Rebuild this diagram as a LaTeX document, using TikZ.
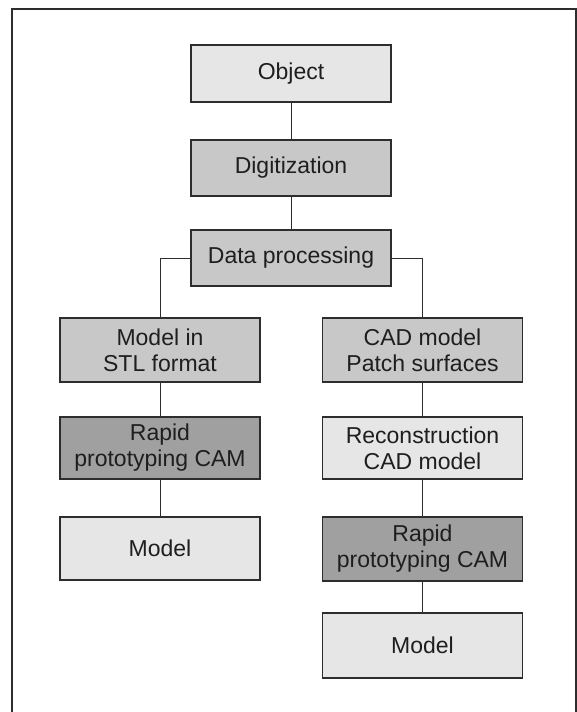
\documentclass[tikz,border=0pt]{standalone}
\usepackage{fontspec}
\setmainfont{Liberation Sans}
\definecolor{lightfill}{RGB}{230,230,230}
\definecolor{midfill}{RGB}{200,200,200}
\definecolor{darkfill}{RGB}{160,160,160}
\definecolor{linecol}{RGB}{45,45,45}
\definecolor{textcol}{RGB}{30,30,30}
\tikzset{
  box/.style={draw=linecol, line width=1.2pt, minimum width=200pt, inner sep=0pt,
    align=center, text=textcol, font=\fontsize{23}{26}\selectfont},
  lightbox/.style={box, fill=lightfill},
  midbox/.style={box, fill=midfill},
  darkbox/.style={box, fill=darkfill},
  conn/.style={draw=linecol, line width=1pt}
}
\begin{document}
\begin{tikzpicture}[x=1pt,y=-1pt]
\useasboundingbox (0,0) rectangle (577,712);
\fill[white] (0,0) rectangle (577,712);
\draw[linecol, line width=1.5pt] (12,712) -- (12,9) -- (576,9) -- (576,712);

\node[lightbox, minimum height=57pt] (obj) at (291,73.5) {Object};
\node[midbox, minimum height=56pt] (dig) at (291,168) {Digitization};
\node[midbox, minimum height=56pt] (dp) at (291,258) {Data processing};

\node[midbox, minimum height=64pt] (stl) at (160,350) {Model in\\STL format};
\node[darkbox, minimum height=62pt] (rpl) at (160,448) {Rapid\\prototyping CAM};
\node[lightbox, minimum height=63pt] (ml) at (160,548.5) {Model};

\node[midbox, minimum height=64pt] (cad) at (422.5,350) {CAD model\\Patch surfaces};
\node[lightbox, minimum height=62pt] (rec) at (422.5,448) {Reconstruction\\CAD model};
\node[darkbox, minimum height=64pt] (rpr) at (422.5,549) {Rapid\\prototyping CAM};
\node[lightbox, minimum height=65pt] (mr) at (422.5,645.5) {Model};

\draw[conn] (obj.south) -- (dig.north);
\draw[conn] (dig.south) -- (dp.north);
\draw[conn] (dp.west) -| (stl.north);
\draw[conn] (dp.east) -| (cad.north);
\draw[conn] (stl.south) -- (rpl.north);
\draw[conn] (rpl.south) -- (ml.north);
\draw[conn] (cad.south) -- (rec.north);
\draw[conn] (rec.south) -- (rpr.north);
\draw[conn] (rpr.south) -- (mr.north);
\end{tikzpicture}
\end{document}
